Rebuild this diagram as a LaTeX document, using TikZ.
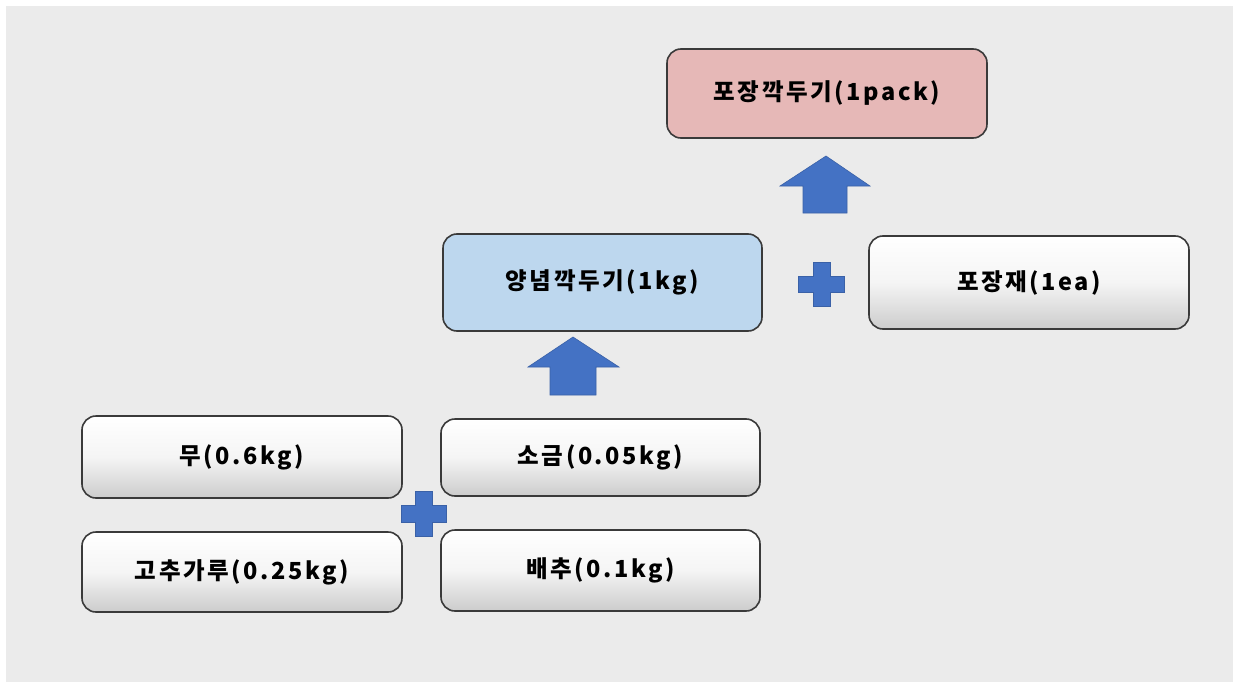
\documentclass[tikz,border=0pt]{standalone}
\usepackage{fontspec}
\setmainfont{Noto Sans CJK KR}
\definecolor{bg}{HTML}{EBEBEB}
\definecolor{pinkfill}{HTML}{E6B8B7}
\definecolor{bluefill}{HTML}{BDD7EE}
\definecolor{arrowblue}{HTML}{4472C4}
\definecolor{edge}{HTML}{3A3A3A}
\begin{document}
\begin{tikzpicture}[x=1pt,y=-1pt,
  box/.style={draw=edge,line width=1.6pt,rounded corners=14pt,inner sep=0pt,
    font=\fontsize{23.5}{27}\selectfont\bfseries\addfontfeature{LetterSpace=11},text=black},
  graybox/.style={box,top color=white,bottom color=black!20,middle color=black!4},
  blockarrow/.style={fill=arrowblue,draw=arrowblue!85!black,line width=0.6pt},
]
\useasboundingbox (0,0) rectangle (1233,682);
\fill[bg] (6,6) rectangle (1233,682);

\node[box,fill=pinkfill,minimum width=320pt,minimum height=89pt] (pack) at (827,93.5) {포장깍두기(1pack)};
\node[box,fill=bluefill,minimum width=319pt,minimum height=97pt] (sauce) at (602.5,282.5) {양념깍두기(1kg)};
\node[graybox,minimum width=320pt,minimum height=93pt] (wrap) at (1029,282.5) {포장재(1ea)};
\node[graybox,minimum width=320pt,minimum height=82pt] (mu) at (242,457) {무(0.6kg)};
\node[graybox,minimum width=319pt,minimum height=77pt] (salt) at (600.5,457.5) {소금(0.05kg)};
\node[graybox,minimum width=320pt,minimum height=80pt] (pepper) at (242,572) {고추가루(0.25kg)};
\node[graybox,minimum width=319pt,minimum height=81pt] (cabbage) at (600.5,570.5) {배추(0.1kg)};

% block arrows
\draw[blockarrow] (826,156) -- (870,186) -- (847,186) -- (847,213) -- (803,213) -- (803,186) -- (780,186) -- cycle;
\draw[blockarrow] (573,337) -- (619,367) -- (596,367) -- (596,395) -- (550,395) -- (550,367) -- (528,367) -- cycle;

% plus signs
\draw[blockarrow] (813,262) -- (830,262) -- (830,276) -- (844,276) -- (844,292) -- (830,292) -- (830,306) -- (813,306) -- (813,292) -- (798,292) -- (798,276) -- (813,276) -- cycle;
\draw[blockarrow] (415,491) -- (432,491) -- (432,505) -- (446,505) -- (446,522) -- (432,522) -- (432,536) -- (415,536) -- (415,522) -- (401,522) -- (401,505) -- (415,505) -- cycle;
\end{tikzpicture}
\end{document}
